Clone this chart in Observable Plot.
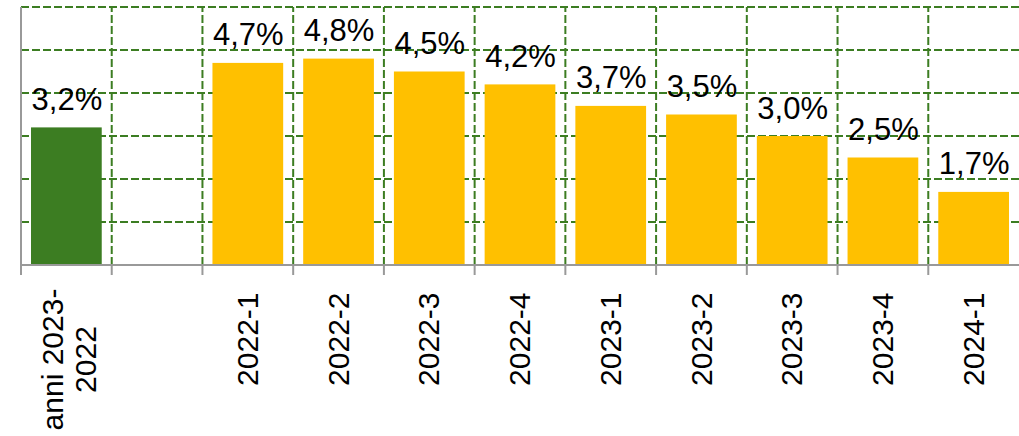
<!DOCTYPE html>
<html><head><meta charset="utf-8">
<script src="https://cdn.jsdelivr.net/npm/d3@7"></script>
<script src="https://cdn.jsdelivr.net/npm/@observablehq/plot@0.6"></script>
<style>html,body{margin:0;padding:0;background:#fff;overflow:hidden}</style>
</head><body><div id="chart"></div>
<script>
// ---- data ----
const categories = ["anni 2023-\n2022", "", "2022-1", "2022-2", "2022-3", "2022-4", "2023-1", "2023-2", "2023-3", "2023-4", "2024-1"];
const values = [3.2, null, 4.7, 4.8, 4.5, 4.2, 3.7, 3.5, 3.0, 2.5, 1.7];
const periodType = ["annuale", null, "trimestrale", "trimestrale", "trimestrale", "trimestrale", "trimestrale", "trimestrale", "trimestrale", "trimestrale", "trimestrale"];
const yGridValues = [1, 2, 3, 4, 5, 6];

// ---- styles ----
const GREEN = "#3c7d22", YELLOW = "#ffc000", GREY = "#999999";
const W = 1019, H = 436, mL = 21, mR = 0, mT = 7, mB = 171;
const step = (W - mL - mR) / categories.length;

const data = categories.map((c, i) => ({cat: c, value: values[i], type: periodType[i]}))
  .filter(d => d.value != null);
const fmt = v => v.toFixed(1).replace(".", ",") + "%";

const chart = Plot.plot({
  width: W, height: H,
  marginLeft: mL, marginRight: mR, marginTop: mT, marginBottom: mB,
  style: {fontFamily: "'Liberation Sans', Arial, sans-serif", background: "#fff", overflow: "visible"},
  x: {domain: categories, padding: 0, round: false, axis: null},
  y: {domain: [0, 6], axis: null},
  color: {domain: ["annuale", "trimestrale"], range: [GREEN, YELLOW]},
  marks: [
    Plot.ruleY(yGridValues, {dy: -0.5, stroke: GREEN, strokeWidth: 2, strokeDasharray: "8,3"}),
    Plot.ruleX(categories.slice(1), {x: d => d, y1: 0, y2: 6, dx: -step / 2 - 0.5, stroke: GREEN, strokeWidth: 2, strokeDasharray: "8,3"}),
    Plot.barY(data, {x: "cat", y: "value", fill: "type", insetLeft: 10, insetRight: 10}),
    Plot.ruleY([0], {dy: -0.5, stroke: GREY, strokeWidth: 2}),
    Plot.ruleX(categories, {x: d => d, y1: 0, y2: 0, insetBottom: -10, dx: -step / 2 - 0.5, stroke: GREY, strokeWidth: 2}),
    Plot.ruleX([categories[0]], {x: d => d, y1: 0, y2: 6, dx: -step / 2 - 0.5, stroke: GREY, strokeWidth: 2}),
    Plot.text(data, {x: "cat", y: "value", text: d => fmt(d.value), lineAnchor: "bottom", dy: -18, fontSize: 31, fill: "#000"}),
    Plot.text(categories.slice(2), {x: d => d, text: d => d, frameAnchor: "bottom", dy: 27, rotate: -90, textAnchor: "end", lineAnchor: "middle", fontSize: 30, fill: "#000"}),
    Plot.text([categories[0]], {x: d => d, text: d => d, frameAnchor: "bottom", dy: 94, dx: 2, rotate: -90, textAnchor: "middle", lineAnchor: "middle", lineHeight: 1.1, fontSize: 30, fill: "#000"})
  ]
});
document.getElementById("chart").appendChild(chart);
</script>
</body></html>
